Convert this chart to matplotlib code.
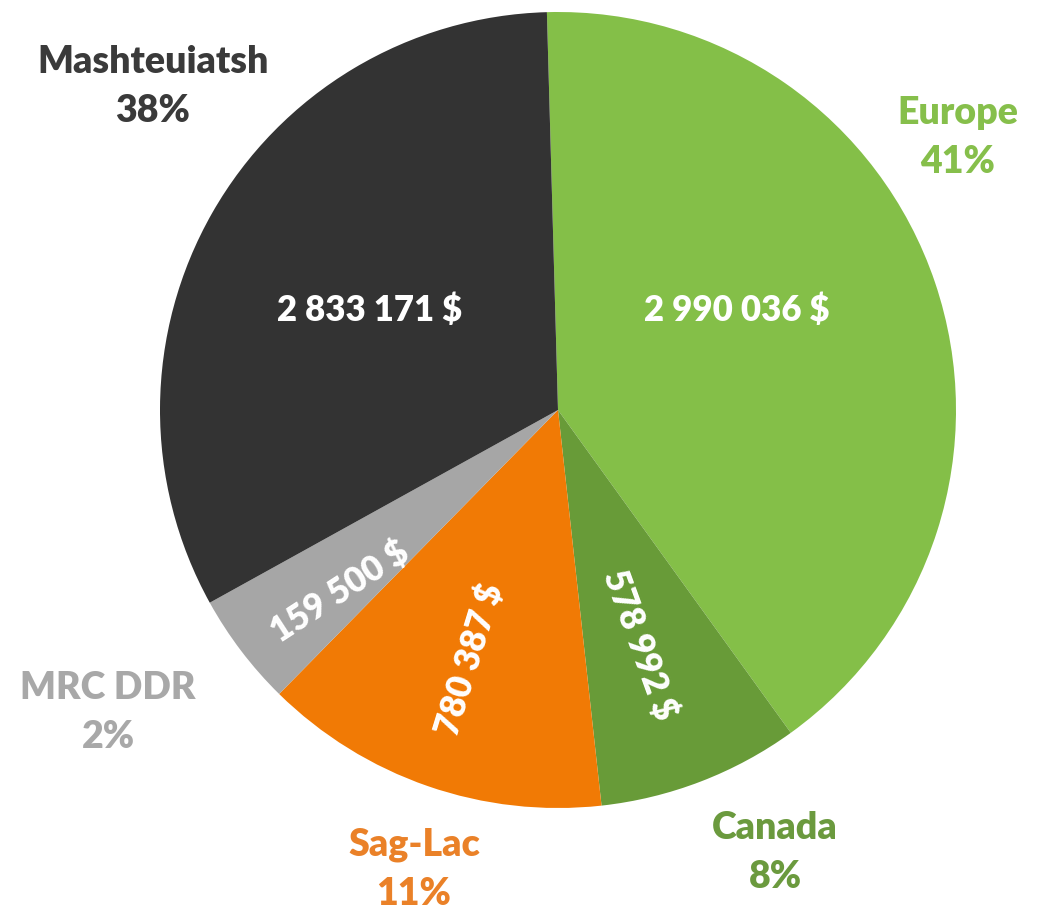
import matplotlib.pyplot as plt

plt.rcParams['font.family'] = ['Lato', 'DejaVu Sans']

# donnees
regions = ['Europe', 'Canada', 'Sag-Lac', 'MRC DDR', 'Mashteuiatsh']
montants = [2990036, 578992, 780387, 159500, 2833171]
pourcent = ['41%', '8%', '11%', '2%', '38%']
# parts telles que dessinees dans le graphique (en %)
parts = [40.5, 8.2, 14.1, 4.6, 32.6]
couleurs = ['#84bf48', '#689b38', '#f17a05', '#a6a6a6', '#333333']
couleurs_txt = ['#86bf4b', '#6b9a3e', '#ea8128', '#a8a8a8', '#3a3a3a']

def fmt(v):
    return f'{v:,}'.replace(',', ' ') + ' $'

W, H = 1043, 911
fig = plt.figure(figsize=(W/100, H/100), dpi=100)
ax = fig.add_axes([0, 0, 1, 1])

cx, cy, R = 558, H - 410, 398
ax.pie(parts, colors=couleurs, startangle=91.6, counterclock=False,
       center=(cx, cy), radius=R, frame=True,
       wedgeprops=dict(linewidth=0))
ax.set_xlim(0, W)
ax.set_ylim(0, H)
ax.set_aspect('equal')
ax.axis('off')

# etiquettes exterieures (nom + pourcentage)
pos_nom = [(958, 113), (775, 828), (414, 845), (108, 688), (153, 62)]
for i in range(len(regions)):
    x, y = pos_nom[i]
    ax.text(x, H - y, regions[i], color=couleurs_txt[i], fontsize=27,
            fontweight='heavy', ha='center', va='center')
    ax.text(x, H - y - 49, pourcent[i], color=couleurs_txt[i], fontsize=27,
            fontweight='heavy', ha='center', va='center')

# montants dans les parts
pos_val = [(737, 310), (640, 645), (470, 660), (340, 592), (370, 310)]
rot_val = [0, -70, 73, 33, 0]
for i in range(len(regions)):
    x, y = pos_val[i]
    ax.text(x, H - y, fmt(montants[i]), color='white', fontsize=25,
            fontweight='heavy', ha='center', va='center',
            rotation=rot_val[i], rotation_mode='anchor')

fig.savefig('out.png', dpi=100)
